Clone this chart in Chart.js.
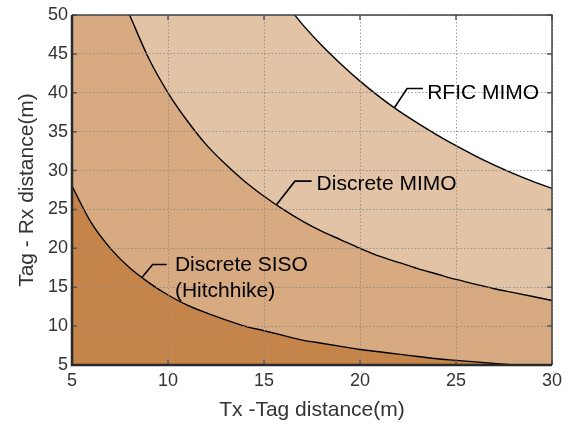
<!DOCTYPE html>
<html>
<head>
<meta charset="utf-8">
<script src="https://cdn.jsdelivr.net/npm/chart.js@4/dist/chart.umd.min.js"></script>
<style>
  body { margin: 0; background: #fff; }
  canvas { display: block; }
</style>
</head>
<body>
<canvas id="chart" width="581" height="423"></canvas>
<script>
// curve samples (Tx-Tag distance -> max Tag-Rx distance)
const sisoTx = [5, 6, 7, 8, 9, 10, 11, 12, 13, 14, 15, 16, 17, 18, 19, 20, 21, 22, 23, 24, 25, 26, 27, 28];
const sisoRx = [28, 23.3, 20, 17.5, 15.6, 14, 12.7, 11.7, 10.8, 10, 9.4, 8.8, 8.2, 7.8, 7.4, 7, 6.7, 6.4, 6.1, 5.8, 5.6, 5.4, 5.2, 5.0];

const discreteTx = [8, 9, 10, 11, 12, 13, 14, 15, 16, 17, 18, 19, 20, 21, 22, 23, 24, 25, 26, 27, 28, 29, 30];
const discreteRx = [50, 44.4, 40, 36.4, 33.3, 30.8, 28.6, 26.7, 25, 23.5, 22.2, 21.1, 20, 19, 18.2, 17.4, 16.7, 16, 15.4, 14.8, 14.3, 13.8, 13.3];

const rficTx = [16.6, 17, 18, 19, 20, 21, 22, 23, 24, 25, 26, 27, 28, 29, 30];
const rficRx = [50, 48.8, 46.1, 43.7, 41.5, 39.5, 37.7, 36.1, 34.6, 33.2, 31.9, 30.7, 29.6, 28.6, 27.7];

const xTicks = [5, 10, 15, 20, 25, 30];
const yTicks = [5, 10, 15, 20, 25, 30, 35, 40, 45, 50];

// callout labels: leader points [x, y] in data units, text anchor, text lines
const callouts = [
    { leader: [[21.8, 38.1], [22.45, 40.55], [23.28, 40.55]], at: [23.5, 40.0], lines: ['RFIC MIMO'] },
    { leader: [[15.66, 25.64], [16.61, 28.64], [17.48, 28.64]], at: [17.74, 28.3], lines: ['Discrete MIMO'] },
    { leader: [[8.63, 16.22], [9.2, 17.93], [9.93, 17.93]], at: [10.36, 17.8], lines: ['Discrete SISO', '(Hitchhike)'] }
];

const FONT = "'Liberation Sans', Arial, Helvetica, sans-serif";

function toPoints(xs, ys) {
    return xs.map((x, i) => ({ x: x, y: ys[i] }));
}

// fill between the two discrete curves
const bgPlugin = {
    id: 'bg',
    beforeDatasetsDraw(chart) {
        const a = chart.chartArea;
        const ctx = chart.ctx;
        ctx.save();
        ctx.fillStyle = '#D8AA82';
        ctx.fillRect(a.left, a.top, a.right - a.left, a.bottom - a.top);
        ctx.restore();
    }
};

// box frame with inward ticks, plus the curve callouts
const frameAndLabels = {
    id: 'frameAndLabels',
    afterDraw(chart) {
        const ctx = chart.ctx;
        const a = chart.chartArea;
        const xs = chart.scales.x;
        const ys = chart.scales.y;

        ctx.save();
        ctx.strokeStyle = '#555';
        ctx.lineWidth = 1.5;
        xTicks.forEach(v => {
            const px = xs.getPixelForValue(v);
            ctx.beginPath();
            ctx.moveTo(px, a.bottom); ctx.lineTo(px, a.bottom - 5);
            ctx.moveTo(px, a.top); ctx.lineTo(px, a.top + 5);
            ctx.stroke();
        });
        yTicks.forEach(v => {
            const py = ys.getPixelForValue(v);
            ctx.beginPath();
            ctx.moveTo(a.left, py); ctx.lineTo(a.left + 5, py);
            ctx.moveTo(a.right, py); ctx.lineTo(a.right - 5, py);
            ctx.stroke();
        });

        ctx.strokeStyle = '#444';
        ctx.lineWidth = 1.5;
        ctx.beginPath();
        ctx.moveTo(a.left, a.top); ctx.lineTo(a.right, a.top); ctx.lineTo(a.right, a.bottom);
        ctx.stroke();
        ctx.strokeStyle = '#2a2a2a';
        ctx.lineWidth = 2.5;
        ctx.beginPath();
        ctx.moveTo(a.left, a.top); ctx.lineTo(a.left, a.bottom); ctx.lineTo(a.right, a.bottom);
        ctx.stroke();

        ctx.strokeStyle = '#000';
        ctx.lineWidth = 1.6;
        ctx.fillStyle = '#000';
        ctx.font = '21px ' + FONT;
        ctx.textAlign = 'left';
        ctx.textBaseline = 'middle';
        callouts.forEach(c => {
            ctx.beginPath();
            c.leader.forEach((p, i) => {
                const px = xs.getPixelForValue(p[0]);
                const py = ys.getPixelForValue(p[1]);
                if (i === 0) ctx.moveTo(px, py); else ctx.lineTo(px, py);
            });
            ctx.stroke();
            const tx = xs.getPixelForValue(c.at[0]);
            const ty = ys.getPixelForValue(c.at[1]);
            c.lines.forEach((t, i) => ctx.fillText(t, tx, ty + i * 26));
        });
        ctx.restore();
    }
};

const curveStyle = {
    borderColor: '#000',
    borderWidth: 1.4,
    pointRadius: 0,
    cubicInterpolationMode: 'monotone'
};

const gridStyle = { color: 'rgba(135,135,135,0.8)', lineWidth: 1, drawTicks: false, z: 1 };

new Chart(document.getElementById('chart'), {
    type: 'line',
    data: {
        datasets: [
            Object.assign({ label: 'RFIC MIMO', data: toPoints(rficTx, rficRx), fill: 'end', backgroundColor: '#ffffff' }, curveStyle),
            Object.assign({ label: 'Discrete MIMO', data: toPoints(discreteTx, discreteRx), fill: 'end', backgroundColor: '#E2C3A5' }, curveStyle),
            Object.assign({ label: 'Discrete SISO (Hitchhike)', data: toPoints(sisoTx, sisoRx), fill: 'start', backgroundColor: '#C4844A' }, curveStyle)
        ]
    },
    options: {
        responsive: false,
        animation: false,
        layout: { padding: { top: 15, right: 29, left: 0, bottom: 0 } },
        plugins: { legend: { display: false }, tooltip: { enabled: false } },
        scales: {
            x: {
                type: 'linear',
                min: 5, max: 30,
                afterFit: s => { s.height = 58; },
                afterBuildTicks: s => { s.ticks = xTicks.map(v => ({ value: v })); },
                ticks: { color: '#333', padding: 5, font: { family: FONT, size: 18 } },
                grid: gridStyle,
                border: { display: false, dash: [1.5, 2] },
                title: { display: true, text: 'Tx -Tag distance(m)', color: '#333', padding: { top: 0, bottom: 0 }, font: { family: FONT, size: 21 } }
            },
            y: {
                type: 'linear',
                min: 5, max: 50,
                afterFit: s => { s.width = 72; },
                afterBuildTicks: s => { s.ticks = yTicks.map(v => ({ value: v })); },
                ticks: { color: '#333', padding: 4, font: { family: FONT, size: 18 } },
                grid: gridStyle,
                border: { display: false, dash: [1.5, 2] },
                title: { display: true, text: 'Tag - Rx distance(m)', color: '#333', padding: { top: 15, bottom: 0 }, font: { family: FONT, size: 21 } }
            }
        }
    },
    plugins: [bgPlugin, frameAndLabels]
});
</script>
</body>
</html>
